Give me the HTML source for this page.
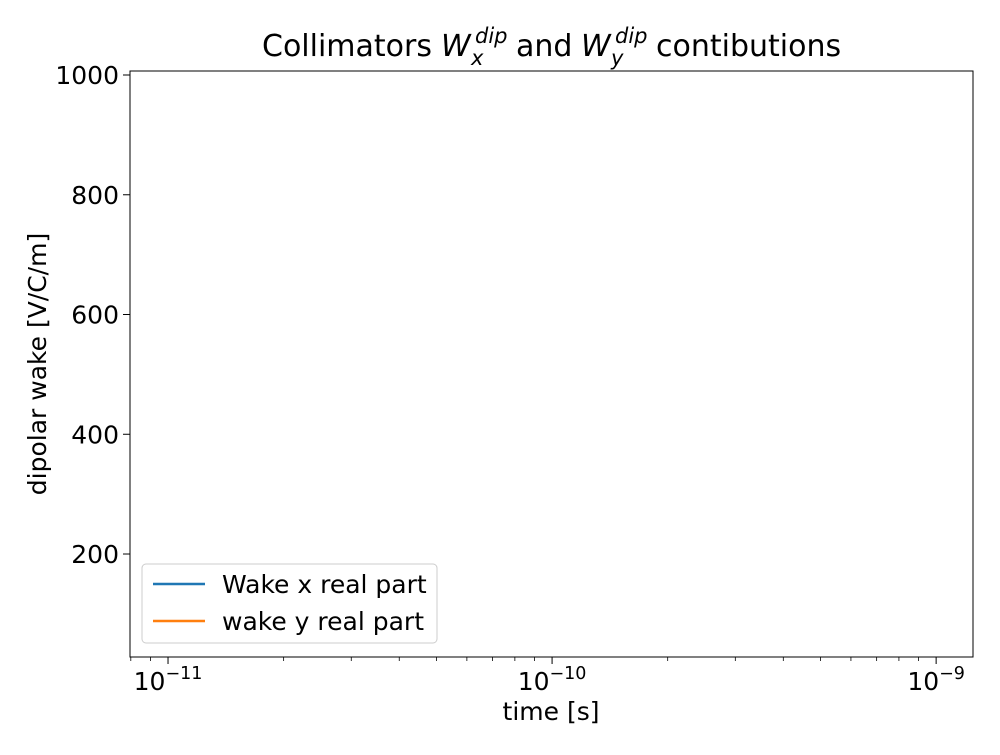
<!DOCTYPE html>
<html><head><meta charset="utf-8"><style>
body{margin:0;background:#fff;}
svg text{font-family:"DejaVu Sans","Liberation Sans",sans-serif;fill:#000;}
</style></head><body>
<svg id="chart" width="1000" height="750" xmlns="http://www.w3.org/2000/svg">
<rect width="1000" height="750" fill="#fff"/>
<g font-size="30">
<text x="262" y="56">Collimators</text>
<text x="441" y="56" font-style="italic">W</text>
<text x="475" y="43" font-size="21" font-style="italic">dip</text>
<text x="471" y="65" font-size="21" font-style="italic">x</text>
<text x="516" y="56">and</text>
<text x="581" y="56" font-style="italic">W</text>
<text x="615" y="43" font-size="21" font-style="italic">dip</text>
<text x="611" y="65" font-size="21" font-style="italic">y</text>
<text x="656" y="56">contibutions</text>
</g>
<g id="plot"></g>
<text x="551" y="720" font-size="25" text-anchor="middle">time [s]</text>
<text transform="translate(46,364) rotate(-90)" font-size="25" text-anchor="middle">dipolar wake [V/C/m]</text>
<g>
<rect x="142" y="564" width="295" height="79" rx="4" fill="#fff" fill-opacity="0.8" stroke="#ccc"/>
<line x1="153" y1="584" x2="205" y2="584" stroke="#1f77b4" stroke-width="2.5"/>
<text x="222" y="593" font-size="25">Wake x real part</text>
<line x1="153" y1="621" x2="205" y2="621" stroke="#ff7f0e" stroke-width="2.5"/>
<text x="222" y="630" font-size="25">wake y real part</text>
</g>
</svg>
<script>
const timeValues = [];
const wakeXValues = [];
const wakeYValues = [];
const yTicks = [200, 400, 600, 800, 1000];
const xDecades = [-11, -10, -9];
const L=130,R=973,T=71,B=657;
const xMin=-11.099,xMax=-8.904,yMin=28,yMax=1006.7;
const xs=v=>L+(Math.log10(v)-xMin)/(xMax-xMin)*(R-L);
const ys=v=>B-(v-yMin)/(yMax-yMin)*(B-T);
const NS="http://www.w3.org/2000/svg";
const g=document.getElementById('plot');
function mk(tag,at){const e=document.createElementNS(NS,tag);for(const k in at)e.setAttribute(k,at[k]);g.appendChild(e);return e;}
function series(vals,color,name){
  if(!timeValues.length)return;
  const d=timeValues.map((t,i)=>(i?'L':'M')+xs(t)+','+ys(vals[i])).join(' ');
  const p=mk('path',{d:d,fill:'none',stroke:color,'stroke-width':2});
  
  
}
series(wakeXValues,'#1f77b4','wake-x-line');
series(wakeYValues,'#ff7f0e','wake-y-line');
for(let d=-12;d<=-9;d++){for(let m=2;m<=9;m++){const v=m*Math.pow(10,d);const x=xs(v);if(x<L||x>R)continue;
  const t=mk('line',{x1:x,x2:x,y1:B,y2:B+4,stroke:'#000','stroke-width':0.8});
  
  }}
xDecades.forEach(d=>{const x=xs(Math.pow(10,d));
  const t=mk('line',{x1:x,x2:x,y1:B,y2:B+7,stroke:'#000','stroke-width':1});
  
  
  const tx=mk('text',{x:x,y:B+33,'font-size':25,'text-anchor':'middle'});
  
  
  tx.innerHTML='10<tspan font-size="17.5" dy="-11">\u2212'+(-d)+'</tspan>';});
yTicks.forEach(v=>{const y=ys(v);
  const t=mk('line',{x1:L-7,x2:L,y1:y,y2:y,stroke:'#000','stroke-width':1});
  
  
  const tx=mk('text',{x:L-11,y:y+9,'font-size':25,'text-anchor':'end'});
  
  
  tx.textContent=v;});
const fr=mk('rect',{x:L,y:T,width:R-L,height:B-T,fill:'none',stroke:'#000','stroke-width':1});


</script>
</body></html>
